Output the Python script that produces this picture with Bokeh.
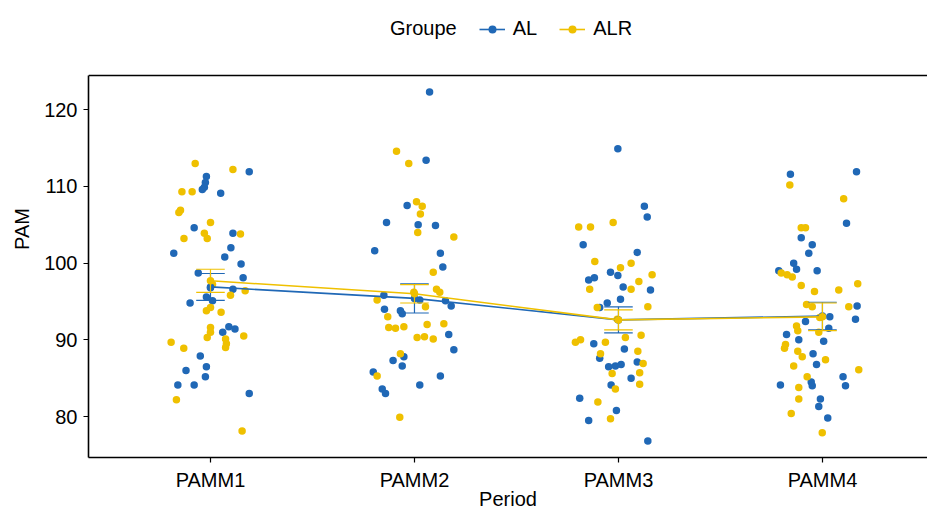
from bokeh.plotting import figure
from bokeh.models import Legend, LegendItem, FixedTicker, Range1d
from bokeh.embed import file_html
from bokeh.resources import INLINE

periods = ["PAMM1", "PAMM2", "PAMM3", "PAMM4"]
groups = ["AL", "ALR"]

# jitter offsets (category units) and PAM values
al_p1_jit = [0.19, -0.02, -0.025, -0.03, -0.04, 0.05, -0.08, 0.11, 0.10, 0.07, -0.18, 0.15, 0.16, -0.06, 0.00, 0.11, -0.02, 0.01, -0.10, 0.09, 0.12, 0.06, -0.05, -0.02, -0.12, -0.025, -0.16, -0.08, 0.19]
al_p1_val = [111.9, 111.3, 110.5, 109.9, 109.6, 109.1, 104.6, 103.9, 102.0, 100.8, 101.3, 99.9, 98.1, 98.7, 96.8, 96.6, 95.6, 95.1, 94.8, 91.7, 91.4, 91.0, 87.9, 86.5, 86.0, 85.2, 84.1, 84.1, 83.0]
alr_p1_jit = [-0.075, 0.11, -0.14, -0.09, -0.147, -0.155, 0.0, -0.03, -0.016, -0.13, 0.147, 0.17, 0.098, -0.02, 0.0, 0.052, 0.0, 0.0, -0.016, 0.074, 0.078, 0.074, 0.163, -0.193, -0.131, -0.167, 0.155, 0.01]
alr_p1_val = [113.0, 112.2, 109.3, 109.3, 106.9, 106.6, 105.3, 103.9, 103.2, 103.2, 103.8, 96.4, 95.8, 93.8, 94.2, 93.6, 91.6, 91.0, 90.3, 90.1, 89.5, 89.0, 90.5, 89.7, 88.9, 82.2, 78.1, 97.2]

al_p2_jit = [0.074, 0.057, -0.036, -0.137, 0.018, 0.103, -0.195, 0.127, 0.139, -0.15, 0.026, 0.152, 0.18, -0.147, -0.069, -0.06, 0.168, 0.193, -0.052, -0.105, -0.06, -0.202, -0.158, -0.142, 0.026, 0.127]
al_p2_val = [122.3, 113.4, 107.5, 105.3, 105.0, 104.9, 101.6, 101.3, 99.5, 95.8, 95.2, 95.1, 94.4, 94.0, 93.8, 93.4, 90.7, 88.7, 87.8, 87.3, 86.6, 85.8, 83.6, 83.0, 84.1, 85.3]
alr_p2_jit = [-0.088, -0.028, 0.01, 0.038, 0.029, 0.016, 0.193, 0.092, 0.108, 0.124, -0.003, -0.183, 0.054, -0.131, -0.126, -0.093, -0.052, 0.062, 0.144, 0.013, 0.049, 0.092, -0.069, -0.183, -0.072]
alr_p2_val = [114.6, 113.0, 108.0, 107.4, 106.4, 104.0, 103.4, 98.8, 96.6, 96.2, 96.2, 95.2, 94.3, 93.0, 91.6, 91.5, 91.7, 92.0, 92.1, 90.3, 90.4, 90.1, 88.2, 85.3, 79.9]

al_p3_jit = [-0.003, 0.127, 0.141, -0.173, 0.092, -0.039, -0.003, -0.146, -0.118, 0.023, 0.157, 0.01, -0.055, -0.092, -0.121, 0.029, -0.092, -0.048, -0.015, 0.013, 0.092, 0.062, -0.036, -0.19, -0.01, -0.146, 0.144]
al_p3_val = [114.9, 107.4, 106.0, 102.4, 101.4, 98.8, 98.4, 97.8, 98.1, 96.9, 96.5, 95.3, 94.8, 94.2, 89.5, 88.8, 87.6, 86.5, 86.6, 86.8, 87.1, 85.0, 84.1, 82.4, 80.8, 79.5, 76.8]
alr_p3_jit = [-0.195, -0.137, -0.026, -0.116, 0.01, 0.062, 0.165, 0.1, -0.141, 0.062, 0.144, -0.104, -0.006, -0.211, -0.186, -0.064, 0.034, 0.111, -0.088, 0.095, 0.121, -0.031, 0.104, 0.104, -0.015, -0.101, -0.039]
alr_p3_val = [104.7, 104.7, 105.3, 100.2, 99.4, 100.0, 98.5, 97.6, 96.6, 96.6, 94.3, 94.2, 92.7, 89.7, 90.0, 89.7, 90.3, 90.6, 88.2, 88.5, 86.9, 85.6, 85.7, 84.2, 83.6, 81.9, 79.7]

al_p4_jit = [-0.157, 0.167, 0.118, -0.104, -0.05, -0.067, -0.141, -0.127, -0.214, -0.026, 0.17, 0.036, 0.162, -0.083, 0.031, -0.176, -0.116, 0.006, -0.046, -0.029, 0.101, 0.113, -0.206, -0.055, -0.05, -0.01, -0.018, 0.026]
al_p4_val = [111.6, 111.9, 105.2, 103.3, 102.4, 101.3, 100.0, 99.2, 99.0, 99.0, 94.4, 93.0, 92.7, 92.4, 91.5, 90.7, 90.0, 89.8, 88.2, 86.8, 85.2, 84.0, 84.1, 84.5, 84.0, 82.3, 81.3, 79.8]
alr_p4_jit = [-0.16, 0.104, -0.104, -0.083, -0.202, -0.173, -0.148, -0.104, -0.039, 0.08, 0.173, -0.078, -0.05, 0.129, -0.013, -0.127, -0.121, -0.018, -0.181, -0.186, -0.121, -0.099, 0.015, -0.141, 0.178, -0.075, -0.116, -0.116, -0.153, -0.001]
alr_p4_val = [110.2, 108.4, 104.6, 104.6, 98.7, 98.5, 98.2, 97.1, 96.3, 96.5, 97.3, 94.6, 94.3, 94.3, 92.9, 91.8, 91.2, 91.0, 89.4, 88.9, 88.5, 87.8, 87.4, 86.6, 86.1, 85.2, 83.8, 82.3, 80.4, 77.9]

# group means and standard errors per period
al_means = [96.9, 95.4, 92.6, 93.1]
al_se = [1.75, 1.9, 1.7, 1.8]
alr_means = [97.7, 96.0, 92.6, 93.0]
alr_se = [1.5, 1.2, 1.3, 1.8]

y_ticks = [80, 90, 100, 110, 120]

BLUE = "#2068B6"
YELLOW = "#EFC000"
FONT = "Liberation Sans"

# panel limits (x: category units, y: PAM); the view extends above the panel for the legend
X0, X1 = 0.402, 4.515
Y0, PANEL_TOP = 74.66, 124.47
VIEW_TOP = 134.24

p = figure(width=927, height=513, output_backend="svg", toolbar_location=None,
           x_range=Range1d(X0, X1), y_range=Range1d(Y0, VIEW_TOP),
           min_border_left=88, min_border_right=0, min_border_top=0, min_border_bottom=56)
p.outline_line_color = None
p.background_fill_color = "white"
p.border_fill_color = "white"
p.xgrid.visible = False
p.ygrid.visible = False

al_jit = [al_p1_jit, al_p2_jit, al_p3_jit, al_p4_jit]
al_val = [al_p1_val, al_p2_val, al_p3_val, al_p4_val]
alr_jit = [alr_p1_jit, alr_p2_jit, alr_p3_jit, alr_p4_jit]
alr_val = [alr_p1_val, alr_p2_val, alr_p3_val, alr_p4_val]

for i in range(4):
    xs_al = [i + 1 + j for j in al_jit[i]]
    xs_alr = [i + 1 + j for j in alr_jit[i]]
    p.scatter(xs_al, al_val[i], size=7.5, color=BLUE, line_color=None)
    p.scatter(xs_alr, alr_val[i], size=7.5, color=YELLOW, line_color=None)

xc = [1, 2, 3, 4]
renderers = {}
for name, means, se, col in [("AL", al_means, al_se, BLUE), ("ALR", alr_means, alr_se, YELLOW)]:
    lo = [m - s for m, s in zip(means, se)]
    hi = [m + s for m, s in zip(means, se)]
    p.segment(x0=xc, y0=lo, x1=xc, y1=hi, line_color=col, line_width=1.2)
    p.segment(x0=[x - 0.07 for x in xc], y0=lo, x1=[x + 0.07 for x in xc], y1=lo, line_color=col, line_width=1.2)
    p.segment(x0=[x - 0.07 for x in xc], y0=hi, x1=[x + 0.07 for x in xc], y1=hi, line_color=col, line_width=1.2)
    ln = p.line(xc, means, line_color=col, line_width=1.6)
    pt = p.scatter(xc, means, size=7.5, color=col, line_color=None)
    renderers[name] = [ln, pt]

# top border of the panel (the right border lies outside the cropped view)
p.line([X0, X1], [PANEL_TOP, PANEL_TOP], line_color="black", line_width=1.6)

# axes styling
for ax in [p.xaxis[0], p.yaxis[0]]:
    ax.axis_line_color = "black"
    ax.axis_line_width = 1.6
    ax.major_tick_line_color = "black"
    ax.major_tick_line_width = 1.2
    ax.major_tick_in = 0
    ax.major_tick_out = 5
    ax.minor_tick_line_color = None
    ax.major_label_text_font = FONT
    ax.major_label_text_font_size = "20px"
    ax.major_label_text_color = "black"
    ax.axis_label_text_font = FONT
    ax.axis_label_text_font_size = "20px"
    ax.axis_label_text_font_style = "normal"
    ax.axis_label_text_color = "black"

p.xaxis.ticker = FixedTicker(ticks=xc)
p.xaxis.major_label_overrides = {i + 1: lab for i, lab in enumerate(periods)}
p.xaxis.axis_label = "Period"
p.xaxis.major_label_standoff = 6
p.xaxis.axis_label_standoff = -6
p.yaxis.ticker = FixedTicker(ticks=y_ticks)
p.yaxis.bounds = (Y0, PANEL_TOP)
p.yaxis.axis_label = "PAM"
p.yaxis.major_label_standoff = 6
p.yaxis.axis_label_standoff = 8

# legend: a title entry with an invisible glyph, then the two groups
title_r = p.scatter([X0 - 1], [Y0 - 10], size=0, alpha=0)
items = [LegendItem(label="Groupe", renderers=[title_r])]
items += [LegendItem(label=g, renderers=renderers[g]) for g in groups]
legend = Legend(items=items, orientation="horizontal", location=(268, 417))
legend.label_text_font = FONT
legend.label_text_font_size = "20px"
legend.label_text_color = "black"
legend.label_standoff = 8
legend.border_line_color = None
legend.background_fill_alpha = 0
legend.glyph_width = 26
legend.glyph_height = 20
legend.spacing = 22
legend.padding = 0
legend.margin = 0
p.add_layout(legend, "center")

open("out.html", "w").write(file_html(p, INLINE))
